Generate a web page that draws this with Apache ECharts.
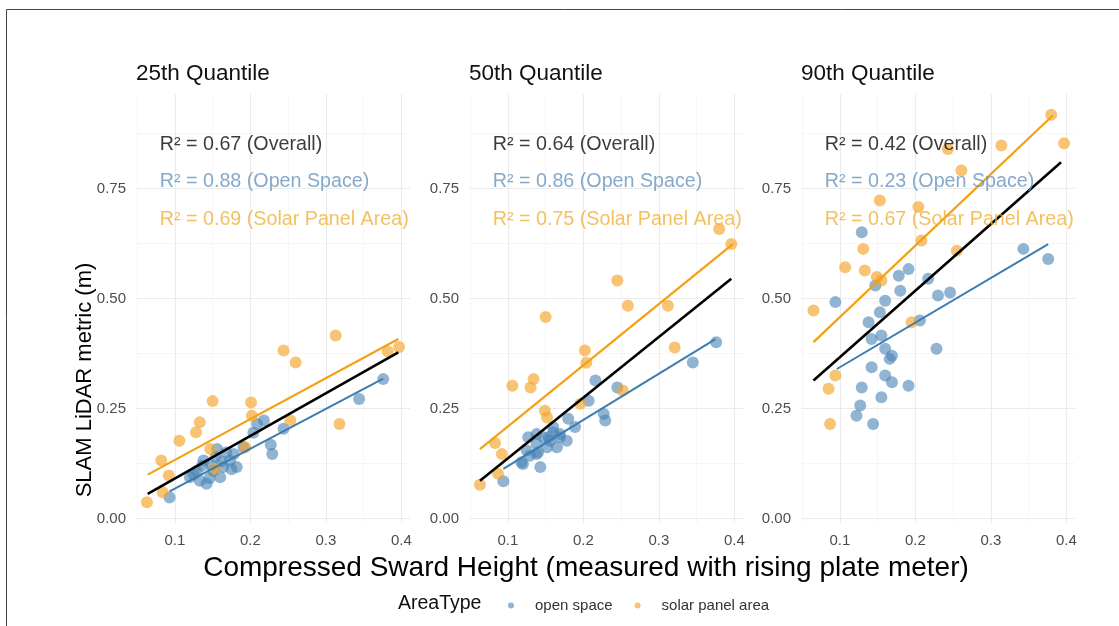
<!DOCTYPE html>
<html><head><meta charset="utf-8">
<script src="https://cdn.jsdelivr.net/npm/echarts@6/dist/echarts.min.js"></script>
<style>html,body{margin:0;padding:0;background:#fff}#c{width:1119px;height:626px}</style>
</head><body><div id="c"></div>
<script>
// ---- data ----
const panelTitles = ['25th Quantile', '50th Quantile', '90th Quantile'];
const xTicks = [0.1, 0.2, 0.3, 0.4];
const yTicks = [0, 0.25, 0.5, 0.75];
const xMinor = [0.05, 0.15, 0.25, 0.35];
const yMinor = [0.125, 0.375, 0.625, 0.875];

const openQ25 = [[0.093,0.048],[0.120,0.094],[0.125,0.101],[0.129,0.109],[0.133,0.086],[0.136,0.120],[0.138,0.132],[0.142,0.079],[0.146,0.092],[0.148,0.122],[0.151,0.109],[0.154,0.140],[0.156,0.158],[0.160,0.094],[0.162,0.130],[0.164,0.117],[0.168,0.150],[0.173,0.132],[0.175,0.112],[0.178,0.147],[0.182,0.117],[0.191,0.162],[0.204,0.195],[0.209,0.215],[0.218,0.223],[0.227,0.168],[0.229,0.147],[0.244,0.204],[0.344,0.272],[0.376,0.317]];
const solarQ25 = [[0.063,0.037],[0.084,0.060],[0.092,0.098],[0.082,0.132],[0.106,0.177],[0.128,0.196],[0.133,0.219],[0.150,0.267],[0.147,0.158],[0.153,0.113],[0.193,0.162],[0.201,0.264],[0.202,0.234],[0.253,0.223],[0.244,0.382],[0.260,0.355],[0.313,0.416],[0.318,0.215],[0.382,0.380],[0.397,0.390]];
const openQ50 = [[0.094,0.085],[0.118,0.128],[0.120,0.124],[0.125,0.155],[0.127,0.185],[0.129,0.143],[0.138,0.147],[0.138,0.170],[0.138,0.192],[0.140,0.151],[0.143,0.117],[0.147,0.185],[0.152,0.162],[0.154,0.185],[0.156,0.177],[0.160,0.196],[0.160,0.208],[0.165,0.162],[0.169,0.185],[0.169,0.192],[0.178,0.177],[0.180,0.227],[0.189,0.208],[0.207,0.268],[0.216,0.314],[0.227,0.238],[0.229,0.223],[0.245,0.298],[0.345,0.355],[0.376,0.401]];
const solarQ50 = [[0.063,0.077],[0.087,0.102],[0.092,0.147],[0.083,0.172],[0.106,0.302],[0.130,0.298],[0.134,0.317],[0.150,0.458],[0.149,0.245],[0.152,0.230],[0.196,0.261],[0.202,0.382],[0.204,0.354],[0.252,0.291],[0.245,0.541],[0.259,0.484],[0.312,0.484],[0.321,0.389],[0.380,0.658],[0.396,0.624]];
const openQ90 = [[0.094,0.492],[0.122,0.234],[0.127,0.257],[0.129,0.298],[0.129,0.651],[0.138,0.446],[0.142,0.344],[0.142,0.408],[0.144,0.215],[0.147,0.530],[0.153,0.469],[0.155,0.276],[0.155,0.416],[0.160,0.325],[0.160,0.386],[0.160,0.495],[0.166,0.363],[0.169,0.310],[0.169,0.370],[0.178,0.552],[0.180,0.518],[0.191,0.302],[0.191,0.567],[0.206,0.450],[0.217,0.545],[0.228,0.386],[0.230,0.507],[0.246,0.514],[0.343,0.613],[0.376,0.590]];
const solarQ90 = [[0.065,0.473],[0.085,0.295],[0.087,0.215],[0.094,0.325],[0.107,0.571],[0.131,0.613],[0.133,0.564],[0.149,0.549],[0.155,0.541],[0.153,0.723],[0.195,0.446],[0.204,0.708],[0.208,0.632],[0.243,0.840],[0.255,0.609],[0.261,0.791],[0.314,0.848],[0.380,0.918],[0.397,0.853]];

// fitted regression lines (endpoints)
const fitOverall = [[[0.064,0.056],[0.396,0.378]], [[0.063,0.086],[0.396,0.545]], [[0.065,0.314],[0.393,0.810]]];
const fitOpen    = [[[0.093,0.062],[0.376,0.318]], [[0.094,0.113],[0.375,0.408]], [[0.096,0.340],[0.376,0.624]]];
const fitSolar   = [[[0.064,0.100],[0.396,0.408]], [[0.063,0.158],[0.398,0.624]], [[0.065,0.401],[0.382,0.916]]];

const r2Overall = ['0.67', '0.64', '0.42'];
const r2Open    = ['0.88', '0.86', '0.23'];
const r2Solar   = ['0.69', '0.75', '0.67'];
const labelX = 0.08;
const labelY = [0.85, 0.765, 0.68];

// ---- layout / style ----
const FONT = 'Liberation Sans, Arial, Helvetica, sans-serif';
const openPts = [openQ25, openQ50, openQ90];
const solarPts = [solarQ25, solarQ50, solarQ90];
const gridLefts = [136, 469, 801];
const GRID_TOP = 94, GRID_W = 274, GRID_H = 429;
const XMIN = 0.0485, XMAX = 0.4115, YMIN = -0.01, YMAX = 0.965;

const cBluePt = 'rgba(70,130,180,0.75)';
const cOrangePt = 'rgba(244,162,38,0.8)';
const cBlueLine = '#3d7cb1';
const cOrangeLine = '#f5a010';

const grids = [], xAxes = [], yAxes = [], series = [], titles = [];
for (let i = 0; i < 3; i++) {
  grids.push({left: gridLefts[i], top: GRID_TOP, width: GRID_W, height: GRID_H, containLabel: false});
  xAxes.push({
    type: 'value', gridIndex: i, min: XMIN, max: XMAX, position: 'bottom',
    axisLine: {show: false}, axisTick: {show: false, customValues: xTicks},
    axisLabel: {customValues: xTicks, color: '#4d4d4d', fontSize: 15, fontFamily: FONT, margin: 10,
      formatter: v => v.toFixed(1)},
    splitLine: {show: true, lineStyle: {color: '#ebebeb', width: 1.1}}
  });
  yAxes.push({
    type: 'value', gridIndex: i, min: YMIN, max: YMAX,
    axisLine: {show: false}, axisTick: {show: false, customValues: yTicks},
    axisLabel: {customValues: yTicks, color: '#4d4d4d', fontSize: 15, fontFamily: FONT, margin: 10,
      formatter: v => v.toFixed(2)},
    splitLine: {show: true, lineStyle: {color: '#ebebeb', width: 1.1}}
  });
  titles.push({text: panelTitles[i], left: gridLefts[i], top: 62, padding: 0,
    textStyle: {fontSize: 22.5, fontWeight: 'normal', color: '#111', fontFamily: FONT}});
}
// minor grid axes
for (let i = 0; i < 3; i++) {
  xAxes.push({type: 'value', gridIndex: i, min: XMIN, max: XMAX, position: 'top',
    axisLine: {show: false}, axisTick: {show: false, customValues: xMinor}, axisLabel: {show: false, customValues: xMinor},
    splitLine: {show: true, lineStyle: {color: '#f4f4f4', width: 0.8}}});
  yAxes.push({type: 'value', gridIndex: i, min: YMIN, max: YMAX, position: 'right',
    axisLine: {show: false}, axisTick: {show: false, customValues: yMinor}, axisLabel: {show: false, customValues: yMinor},
    splitLine: {show: true, lineStyle: {color: '#f4f4f4', width: 0.8}}});
}

for (let i = 0; i < 3; i++) {
  series.push({type: 'scatter', name: 'open space', xAxisIndex: i, yAxisIndex: i, data: openPts[i],
    symbolSize: 12, itemStyle: {color: cBluePt}, z: 2, silent: true});
  series.push({type: 'scatter', name: 'solar panel area', xAxisIndex: i, yAxisIndex: i, data: solarPts[i],
    symbolSize: 12, itemStyle: {color: cOrangePt}, z: 2, silent: true});
  series.push({type: 'line', name: 'fit overall ' + i, xAxisIndex: i, yAxisIndex: i, data: fitOverall[i],
    symbol: 'none', lineStyle: {color: '#000', width: 2.6}, z: 4, silent: true});
  series.push({type: 'line', name: 'fit open ' + i, xAxisIndex: i, yAxisIndex: i, data: fitOpen[i],
    symbol: 'none', lineStyle: {color: cBlueLine, width: 2}, z: 3, silent: true});
  series.push({type: 'line', name: 'fit solar ' + i, xAxisIndex: i, yAxisIndex: i, data: fitSolar[i],
    symbol: 'none', lineStyle: {color: cOrangeLine, width: 2.2}, z: 3, silent: true});
  const lab = (txt, y, col) => ({value: [labelX, y], name: txt, label: {color: col}});
  series.push({type: 'scatter', name: 'r2 ' + i, xAxisIndex: i, yAxisIndex: i, symbolSize: 0, z: 6, silent: true,
    label: {show: true, position: 'right', distance: 0, formatter: '{b}', fontSize: 19.7, fontFamily: FONT},
    data: [
      lab('R² = ' + r2Overall[i] + ' (Overall)', labelY[0], '#0a0a0a'),
      lab('R² = ' + r2Open[i] + ' (Open Space)', labelY[1], '#6793be'),
      lab('R² = ' + r2Solar[i] + ' (Solar Panel Area)', labelY[2], '#f0b03a')
    ]});
}

const chart = echarts.init(document.getElementById('c'), null, {renderer: 'canvas'});
chart.setOption({
  animation: false,
  backgroundColor: '#fff',
  title: titles,
  grid: grids,
  xAxis: xAxes,
  yAxis: yAxes,
  series: series,
  legend: {
    data: [{name: 'open space', icon: 'circle'}, {name: 'solar panel area', icon: 'circle'}],
    left: 503, top: 593, itemWidth: 6, itemHeight: 6, itemGap: 22, selectedMode: false, padding: 5,
    textStyle: {fontSize: 15, color: '#333', fontFamily: FONT, padding: [0, 0, 0, 16]}
  },
  graphic: [
    {type: 'rect', shape: {x: 6.5, y: 9.5, width: 1300, height: 800}, style: {fill: 'none', stroke: '#444', lineWidth: 1}, silent: true},
    {type: 'text', x: 586, y: 568, style: {text: 'Compressed Sward Height (measured with rising plate meter)', fontSize: 28, fontFamily: FONT, fill: '#000', textAlign: 'center', textVerticalAlign: 'middle'}},
    {type: 'text', x: 85, y: 380, rotation: Math.PI / 2, style: {text: 'SLAM LiDAR metric (m)', fontSize: 22, fontFamily: FONT, fill: '#000', textAlign: 'center', textVerticalAlign: 'middle'}},
    {type: 'text', x: 398, y: 604, style: {text: 'AreaType', fontSize: 19.5, fontFamily: FONT, fill: '#111', textAlign: 'left', textVerticalAlign: 'middle'}}
  ]
});
</script></body></html>
